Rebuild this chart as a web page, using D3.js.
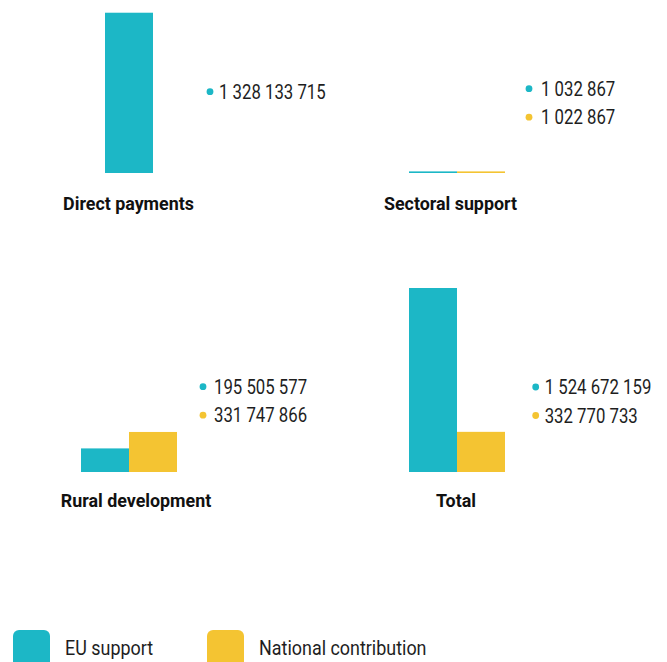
<!DOCTYPE html>
<html>
<head>
<meta charset="utf-8">
<script src="https://cdn.jsdelivr.net/npm/d3@7"></script>
<style>
  html, body { margin: 0; padding: 0; background: #fff; }
  svg { display: block; font-family: Roboto, "Noto Sans", sans-serif; }
</style>
</head>
<body>
<svg id="chart" width="667" height="662"></svg>
<script>
// CAP funding split: EU support vs national contribution, one small panel per measure.

const categories = ["Direct payments", "Sectoral support", "Rural development", "Total"];
const seriesNames = ["EU support", "National contribution"];
const euSupport = [1328133715, 1032867, 195505577, 1524672159];
const nationalContribution = [null, 1022867, 331747866, 332770733];

const colors = ["#1cb7c6", "#f4c432"];

// panel layout (hand-tuned to the reference)
const panelX = [0, 328, 0, 328];
const baseY = [173, 173, 472, 472];
const dotX = [210, 201, 203, 207.7];
const textX = [219, 213, 214, 216.7];
const labelTop = [-81.3, -84.3, -85.3, -85];
const labelStep = 28.5;
const titleX = [128.5, 122.5, 136, 128];
const titleDy = [37, 37, 35, 35];

// the reference face is a condensed one; squeeze Roboto horizontally
function squeezed(sel, x, yPos, k) {
  return sel.append("text")
    .attr("transform", `translate(${x},${yPos}) scale(${k},1)`);
}

const svg = d3.select("#chart");

const y = d3.scaleLinear()
  .domain([0, d3.max(euSupport)])
  .range([0, 184]);

const fmt = v => d3.format(",")(v).replace(/,/g, " ");

categories.forEach((cat, i) => {
  const values = [euSupport[i], nationalContribution[i]]
    .map((v, s) => ({ series: s, value: v }))
    .filter(d => d.value != null);

  const g = svg.append("g")
    .attr("transform", `translate(${panelX[i]},${baseY[i]})`);

  const groupWidth = values.length * 48;
  const x = d3.scaleBand()
    .domain(values.map(d => d.series))
    .range([129 - groupWidth / 2, 129 + groupWidth / 2])
    .padding(0);

  g.selectAll("rect.bar")
    .data(values)
    .join("rect")
    .attr("class", "bar")
    .attr("x", d => x(d.series))
    .attr("width", x.bandwidth())
    .attr("y", d => -Math.max(y(d.value), 1.6))
    .attr("height", d => Math.max(y(d.value), 1.6))
    .attr("fill", d => colors[d.series]);

  const labels = g.selectAll("g.val")
    .data(values)
    .join("g")
    .attr("class", "val")
    .attr("transform", (d, k) => `translate(0,${labelTop[i] + k * labelStep})`);

  labels.append("circle")
    .attr("cx", dotX[i])
    .attr("cy", 0)
    .attr("r", 3.4)
    .attr("fill", d => colors[d.series]);

  squeezed(labels, textX[i], 0, 0.86)
    .attr("dy", "0.36em")
    .attr("fill", "#1e1e1e")
    .attr("font-size", 19.5)
    .text(d => fmt(d.value));

  squeezed(g, titleX[i], titleDy[i], 0.94)
    .attr("text-anchor", "middle")
    .attr("fill", "#111")
    .attr("font-size", 19)
    .attr("font-weight", "bold")
    .text(cat);
});

// legend
const legend = svg.append("g")
  .selectAll("g")
  .data(seriesNames)
  .join("g")
  .attr("transform", (d, i) => `translate(${[13, 207][i]},630)`);

legend.append("rect")
  .attr("width", 37)
  .attr("height", 40)
  .attr("rx", 6)
  .attr("fill", (d, i) => colors[i]);

squeezed(legend, 52, 25, 0.92)
  .attr("fill", "#1e1e1e")
  .attr("font-size", 19.5)
  .text(d => d);
</script>
</body>
</html>
